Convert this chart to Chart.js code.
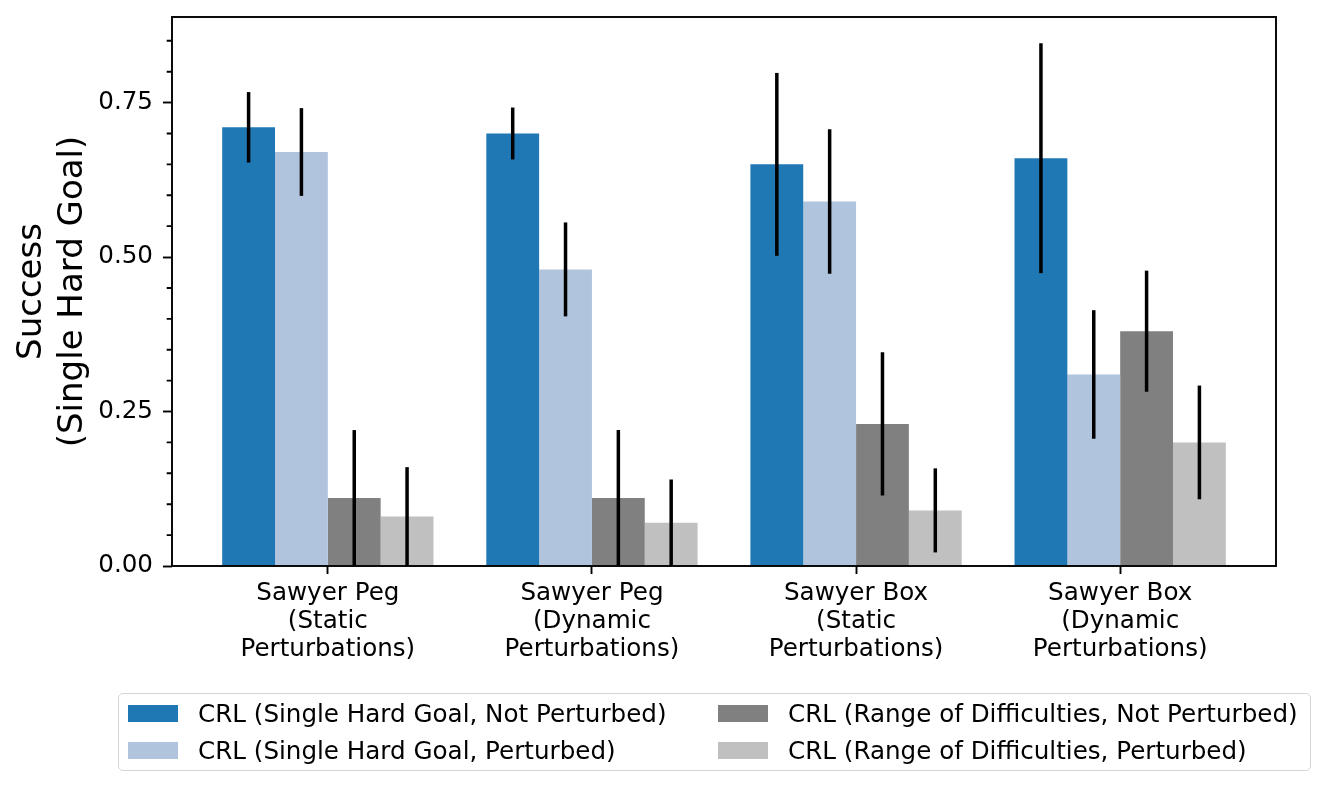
<!DOCTYPE html>
<html>
<head>
<meta charset="utf-8">
<script src="https://cdn.jsdelivr.net/npm/chart.js@4.4.0/dist/chart.umd.min.js"></script>
<style>
  html, body { margin: 0; padding: 0; background: #fff; }
  #wrap { position: relative; width: 1329px; height: 791px; }
  #chart { position: absolute; left: 0; top: 0; }
  #legend {
    position: absolute; left: 118px; top: 693px; width: 1193px; height: 78px;
    border: 1.5px solid #d4d4d4; border-radius: 5px; box-sizing: border-box;
    font-family: "DejaVu Sans", sans-serif; font-size: 24.6px; color: #000;
  }
  .item { position: absolute; height: 30px; line-height: 30px; white-space: nowrap; }
  .swatch { position: absolute; left: 0; top: 6px; width: 50px; height: 17px; }
  .label { position: absolute; left: 70px; top: 0; }
</style>
</head>
<body>
<div id="wrap">
  <canvas id="chart" width="1329" height="791"></canvas>
  <div id="legend"></div>
</div>
<script>
const groups = [
  ["Sawyer Peg", "(Static", "Perturbations)"],
  ["Sawyer Peg", "(Dynamic", "Perturbations)"],
  ["Sawyer Box", "(Static", "Perturbations)"],
  ["Sawyer Box", "(Dynamic", "Perturbations)"],
];
const seriesNames = [
  "CRL (Single Hard Goal, Not Perturbed)",
  "CRL (Single Hard Goal, Perturbed)",
  "CRL (Range of Difficulties, Not Perturbed)",
  "CRL (Range of Difficulties, Perturbed)",
];
const seriesColors = ["#1f77b4", "#b0c4de", "#808080", "#c0c0c0"];

const hardNotPerturbed = [0.71, 0.70, 0.65, 0.66];
const hardPerturbed = [0.67, 0.48, 0.59, 0.31];
const rangeNotPerturbed = [0.11, 0.11, 0.23, 0.38];
const rangePerturbed = [0.08, 0.07, 0.09, 0.20];

const hardNotPerturbedErr = [0.057, 0.042, 0.148, 0.186];
const hardPerturbedErr = [0.071, 0.076, 0.117, 0.104];
const rangeNotPerturbedErr = [0.11, 0.11, 0.116, 0.098];
const rangePerturbedErr = [0.08, 0.07, 0.068, 0.092];

const yTicks = [0, 0.25, 0.5, 0.75];
const yMinorTicks = [0.05, 0.1, 0.15, 0.2, 0.3, 0.35, 0.4, 0.45, 0.55, 0.6, 0.65, 0.7, 0.8, 0.85];

const values = [hardNotPerturbed, hardPerturbed, rangeNotPerturbed, rangePerturbed];
const errors = [hardNotPerturbedErr, hardPerturbedErr, rangeNotPerturbedErr, rangePerturbedErr];

const FONT = "'DejaVu Sans', sans-serif";

const errorBars = {
  id: "errorBars",
  afterDatasetsDraw(chart) {
    const ctx = chart.ctx;
    const y = chart.scales.y;
    const area = chart.chartArea;
    ctx.save();
    ctx.beginPath();
    ctx.rect(area.left, area.top, area.right - area.left, area.bottom - area.top);
    ctx.clip();
    ctx.strokeStyle = "#000";
    ctx.lineWidth = 3.5;
    ctx.lineCap = "butt";
    chart.data.datasets.forEach((ds, di) => {
      const meta = chart.getDatasetMeta(di);
      meta.data.forEach((bar, i) => {
        const v = values[di][i];
        const e = errors[di][i];
        ctx.beginPath();
        ctx.moveTo(bar.x, y.getPixelForValue(v - e));
        ctx.lineTo(bar.x, y.getPixelForValue(v + e));
        ctx.stroke();
      });
    });
    ctx.restore();
  },
};

const frame = {
  id: "frame",
  afterDraw(chart) {
    const ctx = chart.ctx;
    const a = chart.chartArea;
    const y = chart.scales.y;
    ctx.save();
    ctx.strokeStyle = "#000";
    ctx.lineWidth = 1.9;
    ctx.strokeRect(a.left, a.top, a.right - a.left, a.bottom - a.top);
    ctx.beginPath();
    yMinorTicks.forEach((t) => {
      const py = y.getPixelForValue(t);
      ctx.moveTo(a.left - 5.3, py);
      ctx.lineTo(a.left, py);
    });
    ctx.stroke();
    ctx.restore();
  },
};

new Chart(document.getElementById("chart"), {
  type: "bar",
  data: {
    datasets: values.map((vals, di) => ({
      label: seriesNames[di],
      data: vals.map((v, i) => ({ x: i, y: v })),
      backgroundColor: seriesColors[di],
      borderWidth: 0,
      categoryPercentage: 0.8,
      barPercentage: 1.0,
    })),
  },
  options: {
    responsive: false,
    animation: false,
    devicePixelRatio: 1,
    layout: { padding: { top: 17, right: 53, left: 0, bottom: 0 } },
    plugins: { legend: { display: false }, tooltip: { enabled: false } },
    scales: {
      x: {
        type: "linear",
        offset: false,
        min: -0.59,
        max: 3.59,
        afterBuildTicks(scale) {
          scale.ticks = groups.map((g, i) => ({ value: i }));
        },
        afterFit(scale) {
          scale.height = 225;
          scale.paddingLeft = 0;
          scale.paddingRight = 0;
        },
        ticks: {
          autoSkip: false,
          maxRotation: 0,
          color: "#000",
          padding: 6,
          font: { family: FONT, size: 24.6, lineHeight: 1.13 },
          callback: (v) => groups[v],
        },
        grid: {
          offset: false,
          drawOnChartArea: false,
          drawTicks: true,
          tickLength: 8,
          tickWidth: 1.9,
          tickColor: "#000",
        },
        border: { display: false },
      },
      y: {
        min: 0,
        max: 0.8885,
        afterBuildTicks(scale) {
          scale.ticks = yTicks.map((t) => ({ value: t }));
        },
        afterFit(scale) {
          scale.width = 172;
          scale.paddingTop = 0;
          scale.paddingBottom = 0;
        },
        ticks: {
          color: "#000",
          padding: 10,
          font: { family: FONT, size: 24.6 },
          callback: (v) => v.toFixed(2),
        },
        grid: {
          drawOnChartArea: false,
          drawTicks: true,
          tickLength: 9,
          tickWidth: 1.9,
          tickColor: "#000",
        },
        border: { display: false },
        title: {
          display: true,
          text: ["Success", "(Single Hard Goal)"],
          color: "#000",
          padding: { top: 12, bottom: 0 },
          font: { family: FONT, size: 34, lineHeight: 1.2 },
        },
      },
    },
  },
  plugins: [errorBars, frame],
});

// legend in two columns, like the original
const legend = document.getElementById("legend");
const cols = [9, 599];
const rows = [5, 41.5];
seriesNames.forEach((name, i) => {
  const item = document.createElement("div");
  item.className = "item";
  item.style.left = cols[Math.floor(i / 2)] + "px";
  item.style.top = rows[i % 2] + "px";
  item.innerHTML =
    '<span class="swatch" style="background:' + seriesColors[i] + '"></span>' +
    '<span class="label">' + name + "</span>";
  legend.appendChild(item);
});
</script>
</body>
</html>
